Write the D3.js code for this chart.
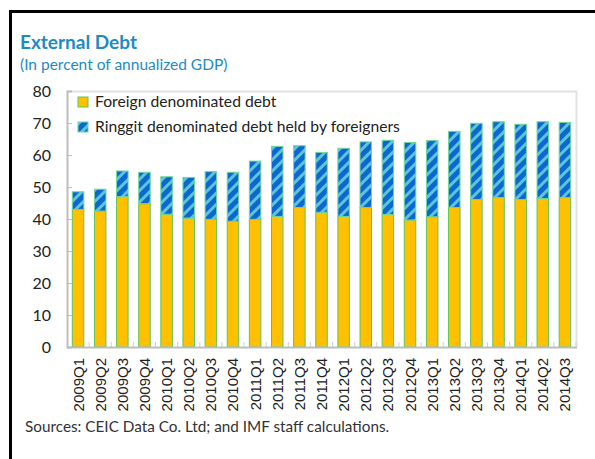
<!DOCTYPE html>
<html>
<head>
<meta charset="utf-8">
<script src="https://cdn.jsdelivr.net/npm/d3@7"></script>
<style>
  body { margin: 0; background: #fff; }
  svg { display: block; }
</style>
</head>
<body>
<svg id="chart" width="595" height="459"></svg>
<script>
var quarters = ["2009Q1", "2009Q2", "2009Q3", "2009Q4", "2010Q1", "2010Q2", "2010Q3", "2010Q4",
  "2011Q1", "2011Q2", "2011Q3", "2011Q4", "2012Q1", "2012Q2", "2012Q3", "2012Q4",
  "2013Q1", "2013Q2", "2013Q3", "2013Q4", "2014Q1", "2014Q2", "2014Q3"];

// foreign denominated debt
var foreignDebt = [43.0, 42.5, 47.0, 44.8, 41.5, 40.3, 39.9, 39.3,
  39.9, 40.8, 43.6, 42.1, 40.8, 43.6, 41.4, 39.7,
  40.7, 43.6, 46.1, 46.7, 46.1, 46.4, 46.7];

// ringgit denominated debt held by foreigners
var ringgitDebt = [5.5, 6.8, 8.0, 9.8, 11.7, 12.7, 14.9, 15.3,
  18.2, 21.9, 19.3, 18.7, 21.3, 20.5, 23.2, 24.2,
  23.8, 23.8, 23.8, 23.7, 23.5, 24.0, 23.5];

var yTicks = [0, 10, 20, 30, 40, 50, 60, 70, 80];
var seriesNames = ["Foreign denominated debt", "Ringgit denominated debt held by foreigners"];

var font = "Lato, 'Liberation Sans', sans-serif";
var titleBlue = "#1e8bc3";
var yellow = "#ffc000";
var edge = "#5cc65c";

var svg = d3.select("#chart");

// outer frame (left and top)
svg.append("path")
  .attr("d", "M10.5,459 L10.5,11.5 L595,11.5")
  .attr("fill", "none")
  .attr("stroke", "#000")
  .attr("stroke-width", 3);

svg.append("text")
  .attr("x", 20).attr("y", 49)
  .attr("fill", titleBlue)
  .style("font", "bold 19px " + font)
  .text("External Debt");

svg.append("text")
  .attr("x", 20).attr("y", 70)
  .attr("fill", titleBlue)
  .style("font", "15.5px " + font)
  .text("(In percent of annualized GDP)");

// hatch pattern for ringgit series
var defs = svg.append("defs");
var pat = defs.append("pattern")
  .attr("id", "hatch")
  .attr("patternUnits", "userSpaceOnUse")
  .attr("width", 8).attr("height", 8)
  .attr("patternTransform", "rotate(45)");
pat.append("rect").attr("width", 8).attr("height", 8).attr("fill", "#0a68cf");
pat.append("rect").attr("x", 0).attr("width", 3).attr("height", 8).attr("fill", "#5fc3dc");

var plotL = 67, plotR = 576, plotT = 91, plotB = 347;

var x = d3.scaleBand()
  .domain(quarters)
  .range([plotL, plotR])
  .paddingInner(0.48)
  .paddingOuter(0.24);

var y = d3.scaleLinear().domain([0, 80]).range([plotB, plotT]);

// plot frame top/right
svg.append("path")
  .attr("d", "M" + plotL + "," + (plotT + 0.5) + " L" + (plotR + 0.5) + "," + (plotT + 0.5) + " L" + (plotR + 0.5) + "," + plotB)
  .attr("fill", "none")
  .attr("stroke", "#e2e2e2")
  .attr("stroke-width", 2);

var stack = quarters.map(function(q, i) {
  return { q: q, f: foreignDebt[i], r: ringgitDebt[i] };
});

var bars = svg.append("g");
bars.selectAll(".foreign")
  .data(stack)
  .enter()
  .append("rect")
  .attr("class", "foreign")
  .attr("x", function(d) { return x(d.q); })
  .attr("width", x.bandwidth())
  .attr("y", function(d) { return y(d.f); })
  .attr("height", function(d) { return y(0) - y(d.f); })
  .attr("fill", yellow)
  .attr("stroke", edge)
  .attr("stroke-width", 1);

bars.selectAll(".ringgit")
  .data(stack)
  .enter()
  .append("rect")
  .attr("class", "ringgit")
  .attr("x", function(d) { return x(d.q); })
  .attr("width", x.bandwidth())
  .attr("y", function(d) { return y(d.f + d.r); })
  .attr("height", function(d) { return y(d.f) - y(d.f + d.r); })
  .attr("fill", "url(#hatch)")
  .attr("stroke", "#6fd69a")
  .attr("stroke-width", 1);

// y axis
var yAxis = svg.append("g")
  .attr("transform", "translate(" + plotL + ",0)")
  .call(d3.axisRight(y).tickValues(yTicks).tickSize(5).tickFormat(""));
yAxis.select(".domain").attr("stroke", "#bdbdbd").attr("stroke-width", 2);
yAxis.selectAll(".tick line").attr("stroke", "#bdbdbd");

svg.append("g").selectAll("text")
  .data(yTicks)
  .enter()
  .append("text")
  .attr("x", 51)
  .attr("y", function(d) { return y(d) + 5.5; })
  .attr("text-anchor", "end")
  .attr("fill", "#222")
  .style("font", "16px " + font)
  .text(function(d) { return d; });

// x axis: ticks between categories pointing up
var step = x.step();
var bounds = quarters.map(function(q) { return x(q) - (step - x.bandwidth()) / 2; });
bounds.push(plotR);
var xAxis = svg.append("g");
xAxis.append("line")
  .attr("x1", plotL).attr("x2", plotR + 1)
  .attr("y1", plotB + 0.5).attr("y2", plotB + 0.5)
  .attr("stroke", "#bdbdbd").attr("stroke-width", 2);
xAxis.selectAll(".xt")
  .data(bounds.slice(1))
  .enter()
  .append("line")
  .attr("x1", function(d) { return d; })
  .attr("x2", function(d) { return d; })
  .attr("y1", plotB).attr("y2", plotB - 5)
  .attr("stroke", "#cfcfcf");

xAxis.selectAll(".xl")
  .data(quarters)
  .enter()
  .append("text")
  .attr("transform", function(d) {
    return "translate(" + (x(d) + x.bandwidth() / 2 + 5.5) + "," + (plotB + 11) + ") rotate(-90)";
  })
  .attr("text-anchor", "end")
  .attr("fill", "#222")
  .style("font", "15px 'Liberation Sans', sans-serif")
  .text(function(d) { return d; });

// legend
var legend = svg.append("g").attr("transform", "translate(78,97)");
var items = legend.selectAll("g")
  .data(seriesNames)
  .enter()
  .append("g")
  .attr("transform", function(d, i) { return "translate(0," + i * 25 + ")"; });
items.append("rect")
  .attr("width", 10).attr("height", 10)
  .attr("fill", function(d, i) { return i === 0 ? yellow : "url(#hatch)"; })
  .attr("stroke", function(d, i) { return i === 0 ? edge : "#6fd69a"; });
items.append("text")
  .attr("x", 17).attr("y", 10)
  .attr("fill", "#222")
  .style("font", "15.7px " + font)
  .text(function(d) { return d; });

svg.append("text")
  .attr("x", 25).attr("y", 432)
  .attr("fill", "#333")
  .style("font", "15.3px " + font)
  .text("Sources: CEIC Data Co. Ltd; and IMF staff calculations.");
</script>
</body>
</html>
